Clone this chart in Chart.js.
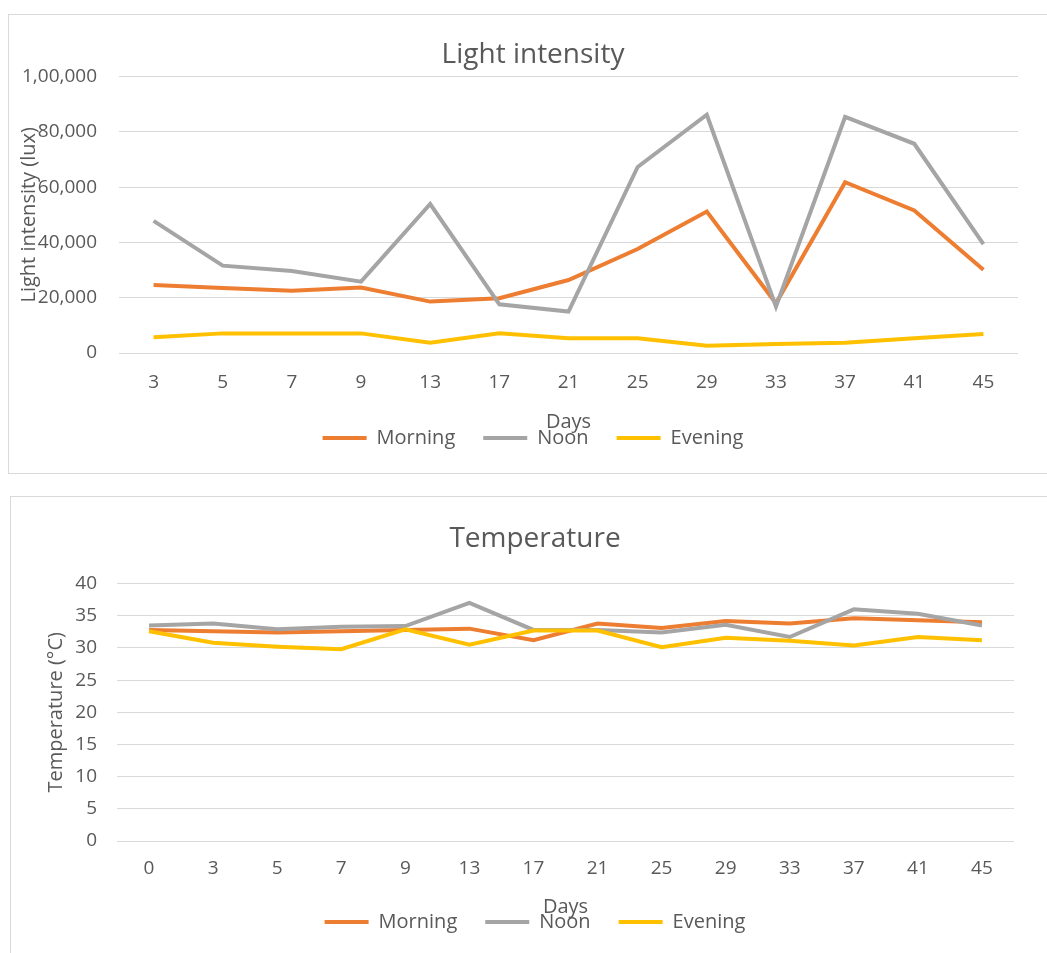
<!DOCTYPE html>
<html>
<head>
<meta charset="utf-8">
<script src="https://cdn.jsdelivr.net/npm/chart.js@4.4.0/dist/chart.umd.min.js"></script>
<style>
  html, body { margin: 0; padding: 0; background: #fff; width: 1047px; height: 953px; overflow: hidden; position: relative; }
  .frame { position: absolute; border: 1px solid #d9d9d9; background: #fff; }
  #f1 { left: 8px; top: 14px; width: 1048px; height: 458px; }
  #f2 { left: 10px; top: 496px; width: 1048px; height: 470px; }
  canvas { display: block; }
</style>
</head>
<body>
<div class="frame" id="f1"><canvas id="lightChart" width="1048" height="458"></canvas></div>
<div class="frame" id="f2"><canvas id="tempChart" width="1048" height="470"></canvas></div>
<script>
// ---- Light intensity (lux) by day ----
const lightDays = ['3', '5', '7', '9', '13', '17', '21', '25', '29', '33', '37', '41', '45'];
const lightMorning = [24600, 23500, 22500, 23700, 18600, 19800, 26400, 37600, 51200, 18000, 61800, 51600, 30100];
const lightNoon    = [47800, 31600, 29700, 25800, 53900, 17600, 15000, 67300, 86200, 16800, 85400, 75700, 39400];
const lightEvening = [5700, 7100, 7100, 7100, 3700, 7100, 5300, 5300, 2600, 3300, 3700, 5300, 6900];
const luxTickLabels = ['0', '20,000', '40,000', '60,000', '80,000', '1,00,000'];

// ---- Temperature (°C) by day ----
const tempDays = ['0', '3', '5', '7', '9', '13', '17', '21', '25', '29', '33', '37', '41', '45'];
const tempMorning = [32.8, 32.6, 32.4, 32.6, 32.8, 33.0, 31.2, 33.8, 33.1, 34.2, 33.8, 34.6, 34.3, 34.0];
const tempNoon    = [33.5, 33.8, 32.9, 33.3, 33.4, 37.0, 32.8, 32.8, 32.4, 33.6, 31.7, 36.0, 35.3, 33.5];
const tempEvening = [32.6, 30.8, 30.2, 29.8, 32.9, 30.5, 32.7, 32.7, 30.1, 31.6, 31.1, 30.4, 31.7, 31.2];

const seriesNames = ['Morning', 'Noon', 'Evening'];
const seriesColors = ['#ED7D31', '#A5A5A5', '#FFC000'];

const TEXT = '#595959';
const GRID = '#d9d9d9';
Chart.defaults.font.family = "'Open Sans', 'Noto Sans', sans-serif";
Chart.defaults.color = TEXT;

function makeDatasets(values) {
  // later series sit on top, so Evening gets the lowest draw order
  return values.map((v, i) => ({
    label: seriesNames[i],
    data: v,
    borderColor: seriesColors[i],
    backgroundColor: seriesColors[i],
    borderWidth: 4,
    pointRadius: 0,
    tension: 0,
    order: values.length - i
  }));
}

function buildChart(canvasId, cfg) {
  return new Chart(document.getElementById(canvasId), {
    type: 'line',
    data: { labels: cfg.labels, datasets: makeDatasets(cfg.series) },
    options: {
      responsive: false,
      animation: false,
      layout: { padding: { left: 0, right: 0, top: 0, bottom: cfg.bottomPad } },
      plugins: {
        tooltip: { enabled: false },
        title: {
          display: true,
          text: cfg.title,
          color: TEXT,
          font: { size: 28, weight: 'normal' },
          padding: cfg.titlePad
        },
        legend: {
          position: 'bottom',
          labels: {
            boxWidth: 44,
            boxHeight: 4,
            padding: 28,
            color: TEXT,
            font: { size: 20 },
            sort: (a, b) => a.datasetIndex - b.datasetIndex,
            generateLabels: (chart) =>
              Chart.defaults.plugins.legend.labels.generateLabels(chart).map(l => ({ ...l, lineWidth: 0 }))
          }
        }
      },
      scales: {
        x: {
          offset: true,
          grid: { display: false, drawTicks: false },
          border: { display: false },
          ticks: { padding: cfg.xTickPad, font: { size: 19 }, color: TEXT, maxRotation: 0, autoSkip: false },
          title: { display: true, text: 'Days', color: TEXT, font: { size: 20 }, padding: { top: 0, bottom: cfg.daysPad } },
          afterFit: s => { s.height = cfg.xHeight; }
        },
        y: {
          min: cfg.yMin,
          max: cfg.yMax,
          grid: { color: GRID, lineWidth: 1, drawTicks: false },
          border: { display: false },
          ticks: { stepSize: cfg.yStep, padding: cfg.yTickPad, font: { size: 19 }, color: TEXT, callback: cfg.yTick },
          title: { display: true, text: cfg.yTitle, color: TEXT, font: { size: 20 }, padding: { top: cfg.yTitlePad, bottom: 0 } },
          afterFit: s => { s.width = cfg.yWidth; }
        },
        yRight: {
          position: 'right',
          display: true,
          grid: { display: false, drawTicks: false },
          border: { display: false },
          ticks: { display: false },
          afterFit: s => { s.width = cfg.rightWidth; }
        }
      }
    }
  });
}

buildChart('lightChart', {
  labels: lightDays,
  series: [lightMorning, lightNoon, lightEvening],
  title: 'Light intensity',
  titlePad: { top: 23, bottom: 5 },
  yTitle: 'Light intensity (lux)',
  yMin: 0, yMax: 100000, yStep: 20000,
  yTick: v => luxTickLabels[Math.round(v / 20000)],
  yWidth: 110, yTickPad: 22, yTitlePad: 8,
  rightWidth: 39,
  xHeight: 47, xTickPad: 18, daysPad: -34,
  bottomPad: 15
});

buildChart('tempChart', {
  labels: tempDays,
  series: [tempMorning, tempNoon, tempEvening],
  title: 'Temperature',
  titlePad: { top: 25, bottom: 28 },
  yTitle: 'Temperature (°C)',
  yMin: 0, yMax: 40, yStep: 5,
  yTick: v => String(v),
  yWidth: 106, yTickPad: 20, yTitlePad: 33,
  rightWidth: 45,
  xHeight: 43, xTickPad: 16, daysPad: -35,
  bottomPad: 25
});
</script>
</body>
</html>
